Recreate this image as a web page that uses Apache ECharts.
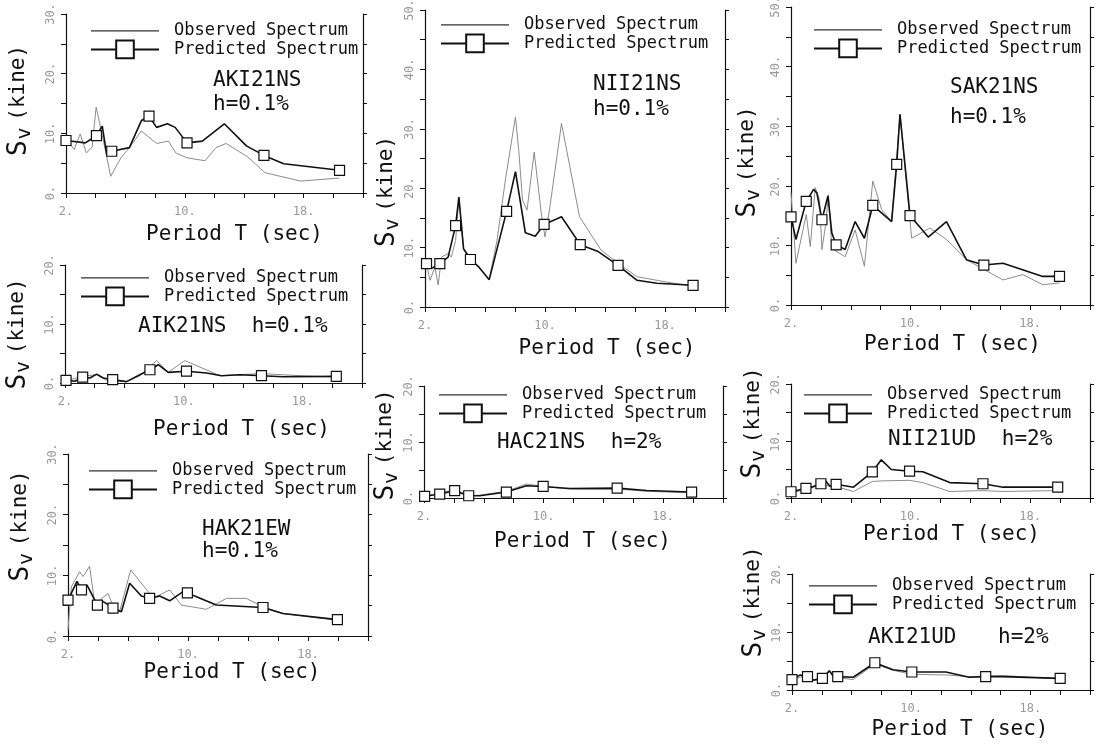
<!DOCTYPE html>
<html>
<head>
<meta charset="utf-8">
<script src="https://cdn.jsdelivr.net/npm/echarts@6/dist/echarts.min.js"></script>
<style>
html, body { margin: 0; padding: 0; background: #fff; }
#chart { width: 1100px; height: 748px; }
</style>
</head>
<body>
<div id="chart"></div>
<script>
// period ticks shared by every panel
var periodTicks = [2, 10, 18];

// [T (sec), Sv (kine)] observed, [T, Sv, square?] predicted
var aki21nsObs = [[2.0,9.0],[2.55,7.3],[2.96,9.9],[3.37,6.7],[3.76,7.7],[4.03,14.4],[4.33,11.0],[5.01,2.8],[5.7,5.9],[6.27,7.6],[7.07,10.4],[8.1,8.3],[8.9,8.7],[9.4,6.7],[10.15,5.9],[11.36,5.4],[12.1,7.6],[12.78,8.3],[14.26,6.0],[15.4,3.4],[17.8,2.0],[20.4,2.5]];
var aki21nsPred = [[2.0,8.8,1],[3.3,8.4,0],[4.05,9.6,1],[4.44,11.2,0],[4.74,6.5,0],[5.08,7.0,1],[6.27,7.6,0],[7.07,12.1,0],[7.59,12.9,1],[8.1,11.0,0],[8.83,11.6,0],[9.35,11.0,0],[10.15,8.4,1],[11.18,8.7,0],[12.66,11.6,0],[14.15,7.9,0],[15.33,6.3,1],[16.66,4.9,0],[20.42,3.8,1]];

var aik21nsObs = [[2.0,0.3],[2.78,0.85],[3.46,1.24],[4.13,1.4],[4.8,0.45],[6.15,0.23],[7.04,1.24],[8.17,3.8],[8.95,1.8],[10.07,3.8],[12.43,1.24],[15.23,1.6],[17.81,1.24],[20.27,1.0]];
var aik21nsPred = [[2.07,0.45,1],[2.67,0.3,0],[3.19,1.0,1],[3.68,0.85,0],[4.13,1.5,0],[4.58,0.85,0],[5.21,0.56,1],[6.15,0.23,0],[7.04,1.4,0],[7.72,2.25,1],[8.28,3.1,0],[8.95,1.8,0],[10.18,2.0,1],[11.53,1.7,0],[12.54,1.24,0],[13.77,1.4,0],[15.23,1.24,1],[16.69,1.07,0],[20.27,1.13,1]];

var hak21ewObs = [[2.0,1.0],[2.22,8.1],[2.78,10.6],[3.0,9.8],[3.44,11.5],[3.78,5.4],[4.11,5.9],[4.67,7.0],[5.11,4.3],[5.44,4.0],[6.18,10.9],[7.44,7.0],[7.89,6.5],[8.78,7.6],[9.56,5.1],[11.22,4.4],[12.56,6.2],[13.89,6.2],[15.0,4.8],[16.33,3.7],[19.96,2.6]];
var hak21ewPred = [[2.0,5.9,1],[2.6,9.0,0],[2.9,7.6,1],[3.27,8.4,0],[3.96,5.1,1],[4.33,5.7,0],[5.0,4.6,1],[5.56,4.0,0],[6.11,8.7,0],[6.89,6.6,0],[7.44,6.2,1],[8.11,6.6,0],[8.78,5.8,0],[9.67,7.3,0],[9.96,7.1,1],[11.89,5.1,0],[15.0,4.7,1],[16.33,3.7,0],[19.96,2.7,1]];

var nii21nsObs = [[2.1,7.3],[2.33,4.5],[2.66,6.7],[2.88,3.7],[3.1,8.4],[3.54,9.0],[3.75,8.4],[4.04,11.2],[4.26,18.5],[4.57,9.8],[5.03,8.4],[6.28,4.6],[6.8,11.2],[7.37,21.6],[8.03,32.0],[8.25,26.4],[8.5,18.0],[8.8,16.3],[9.28,26.1],[9.78,15.2],[10.0,11.8],[10.33,16.9],[11.1,30.9],[12.3,15.2],[13.73,9.6],[15.05,7.0],[16.14,5.1],[18.1,4.2],[19.87,3.5]];
var nii21nsPred = [[2.1,7.3,1],[2.44,6.5,0],[2.99,7.3,1],[3.54,8.4,0],[4.04,13.7,1],[4.26,18.5,0],[4.57,9.8,0],[5.03,8.0,1],[5.6,6.7,0],[6.28,4.6,0],[7.44,16.1,1],[8.03,22.8,0],[8.69,12.5,0],[9.35,11.9,0],[9.94,13.9,1],[11.1,15.2,0],[12.35,10.5,1],[13.5,9.4,0],[14.87,7.0,1],[16.14,4.5,0],[17.46,4.0,0],[19.87,3.65,1]];

var hac21nsObs = [[2.0,0.2],[3.05,0.9],[4.05,1.5],[4.99,0.4],[5.73,0.5],[7.51,1.2],[8.85,2.5],[9.97,2.06],[11.75,1.6],[14.92,1.6],[16.89,1.2],[19.9,0.9]];
var hac21nsPred = [[2.04,0.3,1],[3.05,0.7,1],[4.05,1.3,1],[4.61,0.76,0],[4.99,0.4,1],[5.73,0.4,0],[7.51,1.06,1],[8.85,2.2,0],[9.97,2.06,1],[11.75,1.7,0],[14.92,1.76,1],[16.89,1.35,0],[19.9,1.06,1]];

var sak21nsObs = [[2.0,18.8],[2.33,7.0],[3.02,15.2],[3.29,9.8],[3.62,19.7],[3.91,17.7],[4.07,9.3],[4.29,13.0],[4.51,18.5],[4.73,9.5],[5.62,8.1],[6.29,12.6],[6.91,6.5],[7.47,20.8],[8.07,16.0],[8.73,14.0],[9.29,32.0],[10.07,11.2],[11.29,12.9],[12.4,11.0],[13.73,7.6],[16.18,4.2],[17.51,5.1],[18.84,3.4],[19.96,3.7]];
var sak21nsPred = [[2.0,14.8,1],[2.33,11.0,0],[3.02,17.4,1],[3.51,19.4,0],[3.73,18.8,0],[4.07,14.3,1],[4.47,18.3,0],[4.73,12.1,0],[5.02,10.1,1],[5.62,9.3,0],[6.29,14.0,0],[6.91,11.2,0],[7.47,16.7,1],[8.73,14.0,0],[9.07,23.6,1],[9.29,32.0,0],[9.96,15.0,1],[11.18,11.4,0],[12.4,14.0,0],[13.73,7.6,0],[14.9,6.7,1],[16.18,7.0,0],[18.84,4.8,0],[19.96,4.8,1]];

var nii21udObs = [[2.0,0.86],[3.0,1.5],[4.0,2.3],[5.02,2.0],[6.18,1.14],[7.44,2.9],[8.04,3.0],[9.93,3.1],[10.82,2.7],[12.62,1.14],[14.84,1.3],[16.18,1.14],[19.84,1.3]];
var nii21udPred = [[2.0,1.1,1],[2.51,1.4,0],[3.0,1.7,1],[3.49,2.0,0],[4.0,2.5,1],[4.22,3.3,0],[4.62,2.0,0],[5.02,2.4,1],[6.18,1.9,0],[7.44,4.6,1],[8.04,6.7,0],[8.71,5.0,0],[9.93,4.7,1],[10.82,4.6,0],[12.62,2.7,0],[14.84,2.5,1],[16.18,1.9,0],[19.84,1.9,1]];

var aki21udObs = [[2.0,1.7],[2.56,2.2],[3.04,2.7],[3.44,1.8],[4.04,1.8],[4.51,3.4],[5.07,2.1],[6.11,1.8],[7.56,4.5],[8.78,3.4],[10.04,2.7],[12.33,2.6],[13.89,2.3],[16.11,2.5],[20.0,1.9]];
var aki21udPred = [[2.0,1.8,1],[2.56,2.6,0],[3.04,2.3,1],[3.44,1.7,0],[4.04,2.0,1],[4.51,3.3,0],[4.78,2.3,0],[5.07,2.3,1],[6.11,2.2,0],[7.56,4.7,1],[8.78,3.5,0],[10.04,3.1,1],[12.33,3.1,0],[13.89,2.2,0],[15.0,2.3,1],[16.11,2.3,0],[20.0,2.0,1]];

var MONO = 'DejaVu Sans Mono';

// layout of each panel (pixel box, legend spot, station labels, axis-name tweaks)
var panels = [
  { obs: aki21nsObs, pred: aki21nsPred, ymax: 30, box: [66, 14, 363, 193],
    legend: [90, 22], labels: [['AKI21NS', 213, 70], ['h=0.1%', 213, 94]],
    xGap: 31, xShift: 20, yGap: 31, yShift: -3 },
  { obs: aik21nsObs, pred: aik21nsPred, ymax: 20, box: [65, 265, 362, 383],
    legend: [80, 269], labels: [['AIK21NS  h=0.1%', 138, 316]],
    xGap: 36, xShift: 28, yGap: 31, yShift: 10 },
  { obs: hak21ewObs, pred: hak21ewPred, ymax: 30, box: [68, 454, 368, 636],
    legend: [88, 462], labels: [['HAK21EW', 202, 519], ['h=0.1%', 202, 541]],
    xGap: 25, xShift: 14, yGap: 31, yShift: -19 },
  { obs: nii21nsObs, pred: nii21nsPred, ymax: 50, box: [425, 10, 725, 307],
    legend: [440, 16], labels: [['NII21NS', 593, 74], ['h=0.1%', 593, 99]],
    xGap: 31, xShift: 32, yGap: 22, yShift: 33 },
  { obs: hac21nsObs, pred: hac21nsPred, ymax: 20, box: [424, 386, 723, 498],
    legend: [438, 386], labels: [['HAC21NS  h=2%', 497, 432]],
    xGap: 33, xShift: 9, yGap: 22, yShift: 3 },
  { obs: sak21nsObs, pred: sak21nsPred, ymax: 50, box: [791, 7, 1090, 305],
    legend: [813, 21], labels: [['SAK21NS', 950, 77], ['h=0.1%', 950, 107]],
    xGap: 29, xShift: 12, yGap: 27, yShift: 6 },
  { obs: nii21udObs, pred: nii21udPred, ymax: 20, box: [791, 384, 1090, 498],
    legend: [803, 386], labels: [['NII21UD  h=2%', 888, 429]],
    xGap: 26, xShift: 11, yGap: 19, yShift: -18 },
  { obs: aki21udObs, pred: aki21udPred, ymax: 20, box: [792, 574, 1090, 690],
    legend: [808, 577], labels: [['AKI21UD', 868, 627], ['h=2%', 998, 627]],
    xGap: 29, xShift: 19, yGap: 22, yShift: -30 }
];

var grid = [], xAxis = [], yAxis = [], series = [], legend = [], title = [];

var lineAxis = { lineStyle: { color: '#111', width: 1.2 } };
var tickStyle = { lineStyle: { color: '#111', width: 1 } };

panels.forEach(function (p, i) {
  var b = p.box;
  grid.push({ left: b[0], top: b[1], width: b[2] - b[0], height: b[3] - b[1],
    outerBoundsMode: 'none', containLabel: false });

  xAxis.push({
    gridIndex: i, type: 'value', min: 2, max: 22, interval: 2,
    axisLine: lineAxis, axisTick: Object.assign({ length: 5 }, tickStyle),
    splitLine: { show: false },
    axisLabel: {
      color: '#999', fontFamily: MONO, fontSize: 12, margin: 13,
      formatter: function (v) { return periodTicks.indexOf(v) >= 0 ? v + '.' : ''; }
    },
    name: 'Period T (sec)', nameLocation: 'middle', nameGap: p.xGap,
    nameTextStyle: { fontFamily: MONO, fontSize: 21, color: '#111',
      padding: p.xShift > 0 ? [0, 0, 0, 2 * p.xShift] : [0, -2 * p.xShift, 0, 0] }
  });
  xAxis.push({
    gridIndex: i, type: 'value', position: 'top', min: 2, max: 22, interval: 2,
    axisLine: lineAxis, axisTick: Object.assign({ length: 4, inside: true }, tickStyle),
    splitLine: { show: false }, axisLabel: { show: false }
  });

  var sub = p.yShift;
  yAxis.push({
    gridIndex: i, type: 'value', min: 0, max: p.ymax, interval: 5,
    axisLine: lineAxis, axisTick: Object.assign({ length: 5 }, tickStyle),
    splitLine: { show: false },
    axisLabel: {
      color: '#999', fontFamily: MONO, fontSize: 12, rotate: 90, margin: 9,
      formatter: function (v) { return v % 10 === 0 ? v + '.' : ''; }
    },
    name: '{s|S}{v|v}  {k|(kine)}', nameLocation: 'middle', nameGap: p.yGap,
    nameTextStyle: {
      color: '#111',
      padding: sub > 0 ? [0, 2 * sub, 0, 0] : [0, 0, 0, -2 * sub],
      rich: {
        s: { fontFamily: MONO, fontSize: 26, color: '#111' },
        v: { fontFamily: MONO, fontSize: 20, color: '#111', padding: [12, 0, 0, 1] },
        k: { fontFamily: MONO, fontSize: 21, color: '#111' }
      }
    }
  });
  yAxis.push({
    gridIndex: i, type: 'value', position: 'right', min: 0, max: p.ymax, interval: 5,
    axisLine: lineAxis, axisTick: Object.assign({ length: 4 }, tickStyle),
    splitLine: { show: false }, axisLabel: { show: false }
  });

  series.push({
    name: 'Observed Spectrum', type: 'line', xAxisIndex: 2 * i, yAxisIndex: 2 * i,
    data: p.obs, symbol: 'none', silent: true,
    lineStyle: { color: '#8c8c8c', width: 1 }, itemStyle: { color: '#8c8c8c' }, z: 2
  });
  series.push({
    name: 'Predicted Spectrum', type: 'line', xAxisIndex: 2 * i, yAxisIndex: 2 * i,
    data: p.pred.map(function (d) {
      return { value: [d[0], d[1]], symbol: d[2] ? 'rect' : 'none' };
    }),
    symbol: 'rect', symbolSize: 10, silent: true,
    lineStyle: { color: '#111', width: 1.6 },
    itemStyle: { color: '#fff', borderColor: '#111', borderWidth: 1.2 }, z: 3
  });

  legend.push({
    left: p.legend[0], top: p.legend[1], orient: 'vertical', padding: 0,
    itemWidth: 68, itemHeight: 22, itemGap: 0, selectedMode: false,
    textStyle: { fontFamily: MONO, fontSize: 17, color: '#111', padding: [0, 0, 0, 10] },
    data: [
      { name: 'Observed Spectrum', itemStyle: { opacity: 0 },
        lineStyle: { color: '#333', width: 1.2 } },
      { name: 'Predicted Spectrum' }
    ]
  });

  p.labels.forEach(function (l) {
    title.push({
      text: l[0], left: l[1], top: l[2], padding: 0,
      textStyle: { fontFamily: MONO, fontSize: 21, fontWeight: 'normal', color: '#111' }
    });
  });
});

var chart = echarts.init(document.getElementById('chart'));
chart.setOption({
  backgroundColor: '#fff',
  animation: false,
  title: title,
  legend: legend,
  grid: grid,
  xAxis: xAxis,
  yAxis: yAxis,
  series: series
});
</script>
</body>
</html>
